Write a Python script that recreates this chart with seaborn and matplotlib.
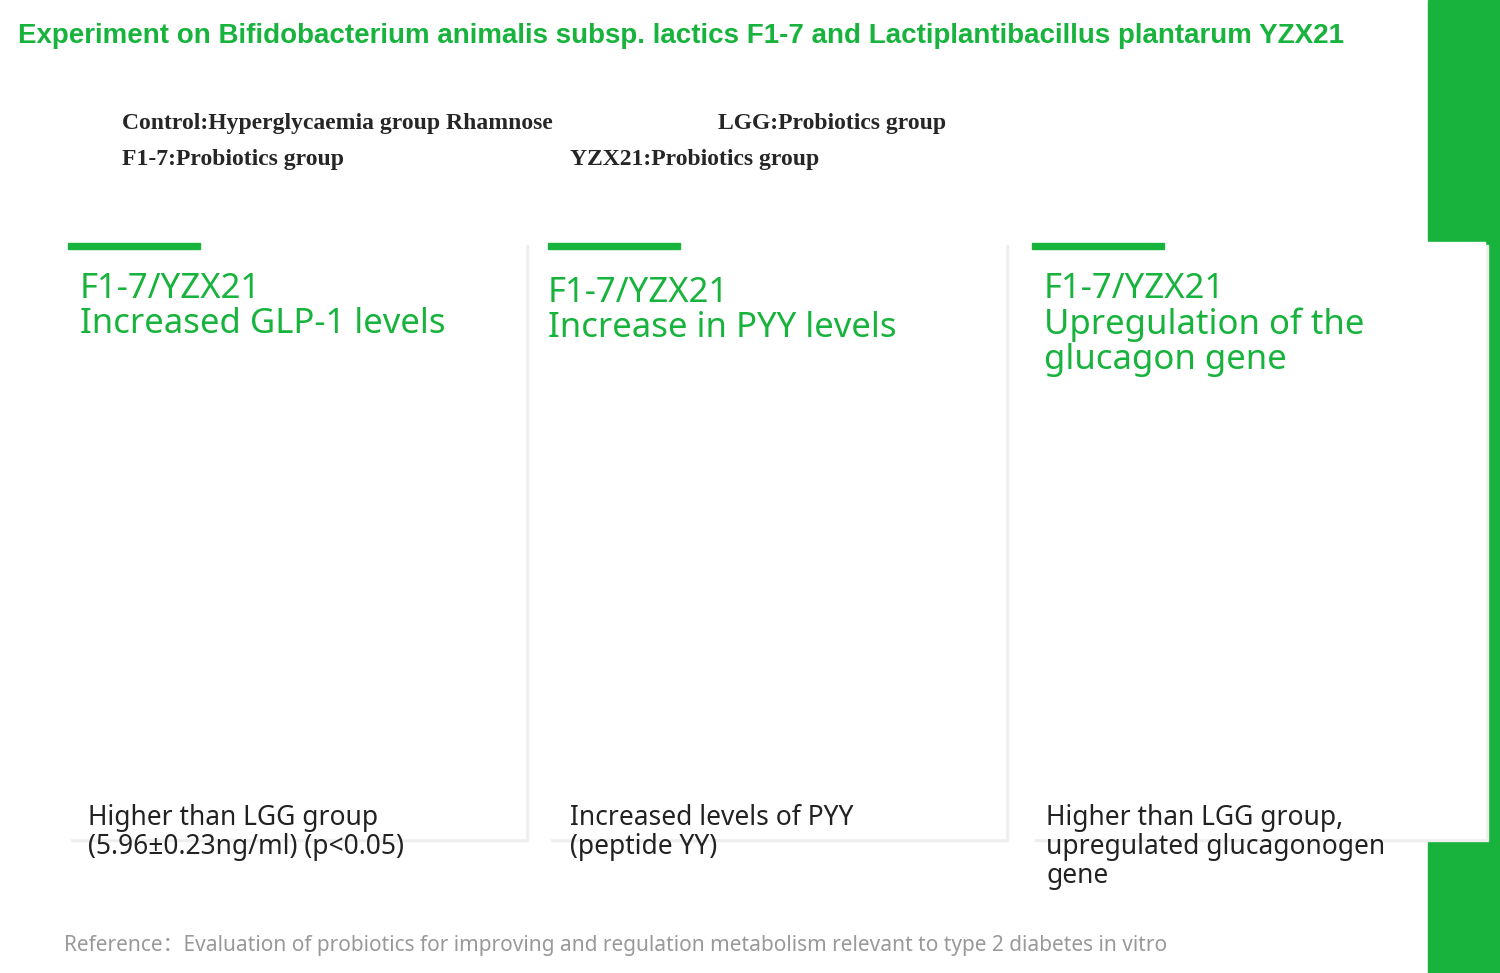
import matplotlib
matplotlib.use("Agg")
import matplotlib.pyplot as plt
import seaborn as sns
import pandas as pd
import numpy as np
from matplotlib.patches import Rectangle
from matplotlib.container import BarContainer

sns.set_theme(style="ticks")
plt.rcParams['font.family'] = ['Liberation Sans', 'DejaVu Sans']
plt.rcParams['hatch.linewidth'] = 1.2

GREEN = "#17b33c"

# ---- data ----
a_cats = ["Control","F518","1F-20","FN239","1F-6","FN249","F40-4","F1-7","FN3","GAN5-4-1","GAN7-8","YZX21","Ru2DG","MSNLG2","MN70","LGG"]
a_vals = [5.0,4.7,19.4,11.0,10.6,2.7,19.7,13.6,6.8,14.1,7.3,12.1,7.0,7.3,1.9,6.8]
a_err = [0.2,0.2,0.4,0.6,0.5,0.1,0.1,1.4,0.6,0.5,0.2,2.1,0.2,0.2,0.2,1.0]
a_marks = ["","","*#","*#","*#","","*#","*#","*","*#","*","*#","*","*","",""]
a_cols = ["#111111","#888888","#666666","#bbbbbb","#444444","#888888","#444444","#dddddd","#888888","#999999","#666666","#444444","#dddddd","#888888","#111111","#cccccc"]

b_cats = ["Control","F518","1F-20","FN239","1F-6","F40-4","F1-7","FN3","GAN5-4-1","GAN7-8","YZX21","Ru2DG","MSNLG2","LGG","MN70","FN249"]
b_vals = [49,62,120,110,106,98,95,97,82,79,73,75,72,69,50,49]
b_err = [3,10,4,2,4,3,2,4,8,6,1,3,4,1,2,1]
b_cols = ["#111111","#888888","#666666","#cccccc","#444444","#555555","#dddddd","#888888","#888888","#666666","#444444","#dddddd","#888888","#111111","#888888","#666666"]

c_cats = ["Control","1F-6","1F-20","F1-7","F40-4","FN3","F239","GAN5-4-1","GAN7-8","YZX21","Ru2DG","MSNLG2","LGG"]
c_cgc = [1.05,2.5,2.9,2.12,2.92,1.55,1.75,2.32,0.95,2.15,1.6,0.97,1.32]
c_pyy = [1.05,2.12,2.65,2.55,3.28,2.15,2.22,3.0,0.87,2.05,1.65,1.02,1.38]
c_cgc_err = [0.05,0.22,0.48,0.38,0.55,0.05,0.08,0.48,0.35,0.18,0.18,0.08,0.1]
c_pyy_err = [0.05,0.42,0.48,0.14,0.32,0.1,0.27,0.13,0.52,0.12,0.18,0.08,0.16]

W, H = 1500, 973
fig = plt.figure(figsize=(15, 9.73), dpi=100)
fig.patch.set_facecolor("white")

def rect(x, y, w, h):
    return [x / W, 1 - (y + h) / H, w / W, h / H]

def ft(x, y, s, **kw):
    fig.text(x / W, 1 - y / H, s, **kw)

fig.patches.append(Rectangle((1428 / W, 0), 72 / W, 1, transform=fig.transFigure, color=GREEN, zorder=0))
for cx, cw in [(68, 457), (548, 457), (1032, 453)]:
    fig.patches.append(Rectangle((cx / W + 0.002, 1 - 838 / H - 0.003), cw / W, 596 / H, transform=fig.transFigure,
                                 color="#eeeeee", zorder=0.5))
    fig.patches.append(Rectangle((cx / W, 1 - 838 / H), cw / W, 596 / H, transform=fig.transFigure,
                                 color="white", zorder=0.6))
    fig.patches.append(Rectangle((cx / W, 1 - 249 / H), 132 / W, 6 / H, transform=fig.transFigure,
                                 color=GREEN, zorder=0.7))

ft(18, 36, "Experiment on Bifidobacterium animalis subsp. lactics F1-7 and Lactiplantibacillus plantarum YZX21",
   color=GREEN, fontsize=20, fontweight="bold", va="center")
serif = dict(family="Liberation Serif", fontweight="bold", fontsize=17, va="center")
ft(122, 124, "Control:Hyperglycaemia group Rhamnose", **serif)
ft(718, 124, "LGG:Probiotics group", **serif)
ft(122, 160, "F1-7:Probiotics group", **serif)
ft(570, 160, "YZX21:Probiotics group", **serif)

hd = dict(family="Noto Sans", fontweight="bold", fontsize=25, color=GREEN, va="top", linespacing=1.05)
ft(80, 272, "F1-7/YZX21\nIncreased GLP-1 levels", **hd)
ft(548, 276, "F1-7/YZX21\nIncrease in PYY levels", **hd)
ft(1044, 272, "F1-7/YZX21\nUpregulation of the\nglucagon gene", **hd)
cp = dict(family="Noto Sans", fontsize=19, color="#222222", va="top", linespacing=1.05)
ft(88, 804, "Higher than LGG group\n(5.96±0.23ng/ml) (p<0.05)", **cp)
ft(570, 804, "Increased levels of PYY\n(peptide YY)", **cp)
ft(1046, 804, "Higher than LGG group,\nupregulated glucagonogen\ngene", **cp)
ft(64, 946, "Reference：Evaluation of probiotics for improving and regulation metabolism relevant to type 2 diabetes in vitro",
   family=["Noto Sans", "Noto Sans CJK SC"], fontsize=15, color="#999999", va="center")

def star_box(ax, x, y, color):
    ax.text(x, y, "*", ha="center", va="center", color="white", fontsize=17, fontweight="bold",
            bbox=dict(boxstyle="square,pad=0.45", fc=color, ec="none"), clip_on=False, zorder=5)

def style_ax(ax, ylabel, letter, lx):
    sns.despine(ax=ax)
    ax.set_xlabel("")
    ax.set_ylabel(ylabel, fontsize=8.5, fontweight="bold")
    ax.tick_params(axis="x", labelrotation=45, labelsize=8, length=3)
    ax.tick_params(axis="y", labelsize=8, length=3)
    for lab in ax.get_xticklabels() + ax.get_yticklabels():
        lab.set_fontweight("bold")
    for lab in ax.get_xticklabels():
        lab.set_ha("right"); lab.set_rotation_mode("anchor")
    for s in ["left", "bottom"]:
        ax.spines[s].set_linewidth(1.3); ax.spines[s].set_color("black")
    ax.text(lx, 1.02, letter, transform=ax.transAxes, fontsize=15, va="bottom")

# ---- A ----
axA = fig.add_axes(rect(128, 541, 397, 168))
dfa = pd.DataFrame({"cat": a_cats, "val": a_vals})
sns.barplot(data=dfa, x="cat", y="val", hue="cat", palette=a_cols, legend=False, ax=axA, width=0.72, saturation=1)
axA.errorbar(range(len(a_cats)), a_vals, yerr=[np.zeros(len(a_err)), a_err], fmt="none", ecolor="black", capsize=3, lw=1)
for i, m in enumerate(a_marks):
    if m:
        axA.text(i, a_vals[i] + a_err[i] + 0.4, m.replace("*", "•"), ha="center", va="bottom", fontsize=6)
axA.set_ylim(0, 25); axA.set_yticks([0, 5, 10, 15, 20, 25]); axA.set_xlim(-0.6, 15.6)
style_ax(axA, "active GLP-1(ng/ml)", "A", -0.13)
star_box(axA, 7, 22.6, GREEN); star_box(axA, 11, 21.0, GREEN); star_box(axA, 15, 15.2, "#888888")

# ---- B ----
axB = fig.add_axes(rect(625, 514, 373, 194))
dfb = pd.DataFrame({"cat": b_cats, "val": b_vals})
sns.barplot(data=dfb, x="cat", y="val", hue="cat", palette=b_cols, legend=False, ax=axB, width=0.78, saturation=1)
axB.errorbar(range(len(b_cats)), b_vals, yerr=[np.zeros(len(b_err)), b_err], fmt="none", ecolor="black", capsize=3, lw=1)
axB.set_ylim(0, 150); axB.set_yticks([0, 50, 100, 150]); axB.set_xlim(-0.6, 15.6)
style_ax(axB, "PYY (ng/ml)", "B", -0.15)
for x1, x2, y, yt in [(2, 9, 178, 190), (2, 13, 148, 160)]:
    axB.plot([x1, x1, x2, x2], [y - 7, y, y, y - 7], color="black", lw=1.6, clip_on=False)
    axB.text((x1 + x2) / 2 + 0.3, yt, "•", ha="center", fontsize=6, clip_on=False)
star_box(axB, 6, 124, GREEN); star_box(axB, 10, 89, GREEN); star_box(axB, 13, 89, "#888888")

# ---- C ----
axC = fig.add_axes(rect(1118, 496, 342, 213))
n = len(c_cats)
dfc = pd.DataFrame({"cat": c_cats * 2, "val": c_cgc + c_pyy, "gene": ["CGC"] * n + ["PYY"] * n})
sns.barplot(data=dfc, x="cat", y="val", hue="gene", palette=["#dddddd", "black"], ax=axC, width=0.8, saturation=1)
bars = [c for c in axC.containers if isinstance(c, BarContainer)]
for j, cont in enumerate(bars):
    patches = list(cont.patches)
    for p in patches:
        p.set_edgecolor("black" if j == 0 else "white"); p.set_linewidth(1.2)
        p.set_hatch("|||" if j == 0 else "..")
    errs = c_cgc_err if j == 0 else c_pyy_err
    xs = [p.get_x() + p.get_width() / 2 for p in patches]
    hs = [p.get_height() for p in patches]
    axC.errorbar(xs, hs, yerr=[np.zeros(n), errs], fmt="none", ecolor="black", capsize=2.5, lw=1)
    for p in patches:
        axC.add_patch(Rectangle((p.get_x(), 0), p.get_width(), p.get_height(), fill=False, ec="black", lw=1.5))
axC.set_ylim(0, 4); axC.set_yticks([0, 1, 2, 3, 4]); axC.set_xlim(-0.6, 12.6)
style_ax(axC, "Relative expression of genes", "C", -0.2)
axC.yaxis.label.set_fontsize(10.5)
axC.tick_params(axis="x", labelsize=10)
axC.tick_params(axis="y", labelsize=10)
axC.legend(loc="upper right", bbox_to_anchor=(1.05, 1.05), frameon=False, fontsize=11, handlelength=1.5)
axC.plot([1, 1, 4, 4], [3.62, 3.75, 3.75, 3.62], color="black", lw=1.6)
axC.text(2.5, 3.85, "•#", ha="center", fontsize=7)
axC.plot([5, 5, 6, 6], [2.58, 2.68, 2.68, 2.58], color="black", lw=1.6)
axC.text(5.5, 2.78, "•", ha="center", fontsize=7)
axC.text(7.2, 3.2, "•#", ha="center", fontsize=7)
axC.text(9, 2.4, "•#", ha="center", fontsize=7)
axC.text(10.2, 1.85, "•", ha="center", fontsize=7)
star_box(axC, 3.1, 3.2, GREEN); star_box(axC, 9, 3.05, GREEN); star_box(axC, 12.2, 2.2, "#888888")

fig.savefig("out.png", dpi=100, facecolor="white")
